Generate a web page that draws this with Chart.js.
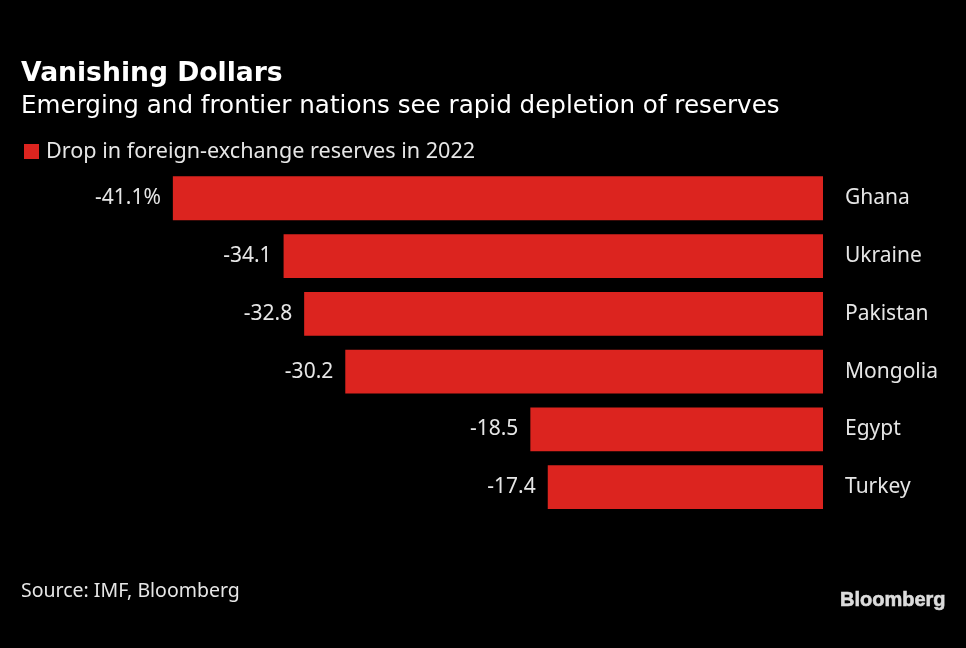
<!DOCTYPE html>
<html>
<head>
<meta charset="utf-8">
<title>Vanishing Dollars</title>
<script src="https://cdn.jsdelivr.net/npm/chart.js@4"></script>
<style>
  html, body { margin: 0; padding: 0; background: #000; }
  canvas { display: block; }
</style>
</head>
<body>
<canvas id="reservesChart" width="966" height="648"></canvas>
<script>
const countries = ['Ghana', 'Ukraine', 'Pakistan', 'Mongolia', 'Egypt', 'Turkey'];
const reserveDrop = [-41.1, -34.1, -32.8, -30.2, -18.5, -17.4];
const valueLabels = ['-41.1%', '-34.1', '-32.8', '-30.2', '-18.5', '-17.4'];
const seriesName = 'Drop in foreign-exchange reserves in 2022';

const titleFont = '"DejaVu Sans", sans-serif';
const bodyFont = '"Noto Sans", sans-serif';
const textColor = '#e6e6e6';
const barColor = '#dc241f';

// legend, value labels next to each bar, source line and logo
const extrasPlugin = {
  id: 'extras',
  afterDatasetsDraw(chart) {
    const ctx = chart.ctx;
    const bars = chart.getDatasetMeta(0).data;
    ctx.save();

    ctx.fillStyle = barColor;
    ctx.fillRect(24, 144, 15, 15);
    ctx.fillStyle = textColor;
    ctx.font = '21.6px ' + bodyFont;
    ctx.textAlign = 'left';
    ctx.textBaseline = 'alphabetic';
    ctx.fillText(chart.data.datasets[0].label, 46, 158);

    ctx.font = '21px ' + bodyFont;
    ctx.textAlign = 'right';
    ctx.textBaseline = 'middle';
    bars.forEach(function (bar, i) {
      ctx.fillText(valueLabels[i], bar.x - 12, bar.y);
    });

    ctx.textAlign = 'left';
    ctx.textBaseline = 'alphabetic';
    ctx.font = '19.5px ' + bodyFont;
    ctx.fillText('Source: IMF, Bloomberg', 21, 597);

    ctx.fillStyle = '#dcdcdc';
    ctx.strokeStyle = '#dcdcdc';
    ctx.lineWidth = 0.6;
    ctx.font = 'bold 20px "Liberation Sans", sans-serif';
    ctx.fillText('Bloomberg', 840, 606);
    ctx.strokeText('Bloomberg', 840, 606);
    ctx.restore();
  }
};

new Chart(document.getElementById('reservesChart'), {
  type: 'bar',
  data: {
    labels: countries,
    datasets: [{
      label: seriesName,
      data: reserveDrop,
      backgroundColor: barColor,
      categoryPercentage: 1,
      barPercentage: 0.76
    }]
  },
  options: {
    indexAxis: 'y',
    responsive: false,
    animation: false,
    layout: { padding: { left: 21, right: 20, top: 58, bottom: 132 } },
    scales: {
      x: { min: -50.7, max: 0, display: false },
      y: {
        position: 'right',
        grid: { display: false },
        border: { display: false },
        ticks: { color: textColor, padding: 14, font: { family: bodyFont, size: 21 } },
        afterFit(scale) { scale.width = 123; }
      }
    },
    plugins: {
      title: {
        display: true,
        text: 'Vanishing Dollars',
        align: 'start',
        color: '#fff',
        font: { family: titleFont, size: 26.6, weight: 'bold' },
        padding: { top: 0, bottom: 2 }
      },
      subtitle: {
        display: true,
        text: 'Emerging and frontier nations see rapid depletion of reserves',
        align: 'start',
        color: '#fff',
        font: { family: titleFont, size: 24.6, weight: 'normal' },
        padding: { top: 0, bottom: 48 }
      },
      legend: { display: false },
      tooltip: { enabled: false }
    }
  },
  plugins: [extrasPlugin]
});
</script>
</body>
</html>
